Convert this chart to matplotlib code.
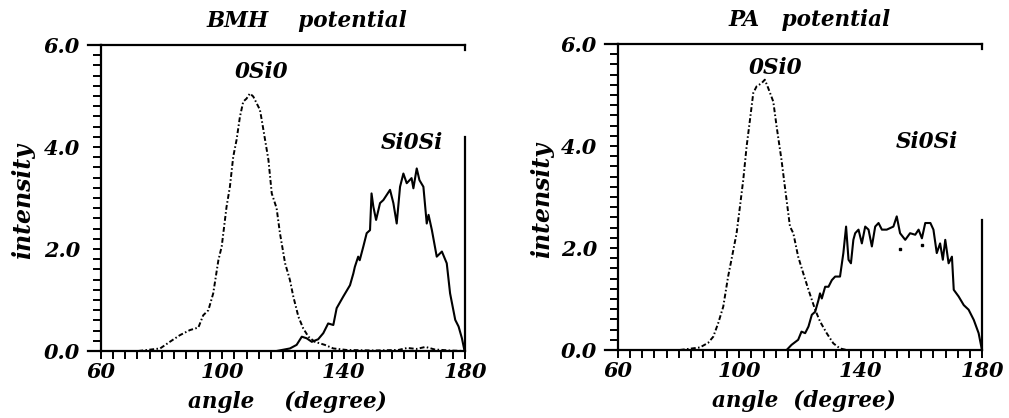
import matplotlib
matplotlib.use("Agg")
import matplotlib.pyplot as plt
from matplotlib.ticker import MultipleLocator, FixedLocator

# ---- data (angle in degrees, intensity) ----
bmh_osio_x = [72.3, 79.5, 82.7, 86.0, 89.3, 92.1, 93.7, 95.4, 97.0, 98.7, 99.8, 101.4,
              102.5, 103.6, 104.7, 105.8, 106.9, 108.0, 109.1, 110.2, 111.3, 112.4,
              113.0, 114.1, 115.2, 116.3, 117.9, 119.0, 120.7, 122.3, 123.4, 125.1,
              126.7, 128.4, 130.5, 133.8, 136.6, 141.0, 150.0, 158.0, 161.0, 164.0,
              167.0, 170.0, 175.0, 180.0]
bmh_osio_y = [0.0, 0.05, 0.18, 0.31, 0.41, 0.46, 0.70, 0.80, 1.13, 1.78, 2.05, 2.83,
              3.22, 3.81, 4.14, 4.59, 4.89, 4.95, 5.05, 4.99, 4.86, 4.73,
              4.53, 4.14, 3.75, 3.09, 2.80, 2.31, 1.72, 1.39, 1.07, 0.67,
              0.44, 0.28, 0.18, 0.12, 0.05, 0.02, 0.01, 0.02, 0.06, 0.04,
              0.08, 0.03, 0.01, 0.0]

bmh_siosi_x = [117.9, 122.3, 124.5, 126.2, 127.8, 129.5, 131.6, 133.3, 134.9, 136.6,
               137.7, 139.9, 142.1, 143.2, 143.7, 144.8, 145.3, 146.5, 147.6, 148.7,
               149.2, 149.8, 150.7, 152.0, 153.1, 155.3, 156.4, 157.5, 158.6, 159.7,
               160.8, 162.4, 163.0, 164.1, 165.0, 166.3, 167.4, 168.0, 169.1, 170.7,
               172.4, 174.0, 175.1, 176.8, 177.9, 179.0, 179.8]
bmh_siosi_y = [0.0, 0.05, 0.12, 0.28, 0.25, 0.18, 0.23, 0.35, 0.54, 0.51,
               0.84, 1.07, 1.29, 1.52, 1.65, 1.85, 1.78, 2.05, 2.31, 2.37,
               3.09, 2.83, 2.57, 2.90, 2.96, 3.16, 2.90, 2.50, 3.22, 3.48,
               3.29, 3.39, 3.19, 3.58, 3.35, 3.22, 2.50, 2.67, 2.37, 1.85,
               1.95, 1.72, 1.13, 0.61, 0.48, 0.25, 0.02]

pa_osio_x = [80.4, 87.0, 89.7, 91.4, 93.0, 94.7, 96.3, 97.4, 99.1, 100.2, 101.3, 102.4,
             103.5, 104.6, 105.7, 107.3, 108.4, 109.5, 111.2, 112.3, 113.9, 115.0,
             116.7, 117.8, 119.4, 121.1, 122.8, 125.0, 126.6, 128.8, 131.0, 133.2, 135.4]
pa_osio_y = [0.0, 0.05, 0.14, 0.26, 0.52, 0.85, 1.44, 1.77, 2.29, 2.81, 3.34, 3.99,
             4.51, 5.04, 5.17, 5.23, 5.30, 5.14, 4.87, 4.38, 3.73, 3.21,
             2.42, 2.29, 1.83, 1.50, 1.18, 0.79, 0.56, 0.33, 0.13, 0.03, 0.0]

pa_siosi_x = [115.6, 117.2, 119.4, 120.5, 121.7, 122.8, 123.9, 125.0, 126.1, 126.6,
              127.2, 128.3, 129.4, 130.5, 131.6, 133.2, 134.3, 135.2, 136.0, 136.8,
              137.6, 138.2, 139.3, 140.4, 141.5, 142.6, 143.7, 144.8, 145.9, 147.0,
              148.6, 150.8, 151.9, 153.0, 154.7, 156.3, 158.0, 159.1, 160.2, 161.3,
              163.0, 164.0, 165.1, 166.2, 167.1, 167.9, 169.0, 170.1, 170.7, 172.3,
              174.0, 175.6, 177.3, 178.9, 180.0]
pa_siosi_y = [0.0, 0.10, 0.20, 0.36, 0.33, 0.46, 0.69, 0.75, 0.98, 1.11,
              1.01, 1.24, 1.24, 1.37, 1.44, 1.44, 1.90, 2.42, 1.77, 1.70,
              2.16, 2.29, 2.36, 2.09, 2.42, 2.36, 2.03, 2.42, 2.49, 2.36,
              2.36, 2.42, 2.62, 2.29, 2.16, 2.29, 2.26, 2.36, 2.19, 2.49,
              2.49, 2.36, 1.90, 2.09, 1.77, 2.16, 1.70, 1.83, 1.18, 1.05,
              0.88, 0.79, 0.59, 0.33, 0.0]
pa_dots_x = [153.0, 160.2]
pa_dots_y = [1.98, 2.06]

FONT = dict(family="DejaVu Serif", weight="bold", style="italic")
DASH = (0, (2.5, 1.2, 0.8, 1.2))


def _panel(ax, title, title_x, xlabel, ylabel_x, osio, siosi, osio_xy, siosi_xy, right_top):
    ax.plot(*osio, color="black", lw=1.4, ls=DASH)
    ax.plot(*siosi, color="black", lw=1.5)
    ax.set_xlim(60, 180)
    ax.set_ylim(0, 6)
    ax.xaxis.set_major_locator(FixedLocator([60, 100, 140, 180]))
    ax.xaxis.set_minor_locator(MultipleLocator(4))
    ax.yaxis.set_major_locator(MultipleLocator(2))
    ax.yaxis.set_minor_locator(MultipleLocator(0.2))
    ax.yaxis.set_major_formatter(matplotlib.ticker.FormatStrFormatter("%.1f"))
    ax.tick_params(which="both", direction="out", length=6, width=1.4, color="black")
    ax.tick_params(axis="x", pad=2)
    ax.tick_params(axis="y", pad=9)
    for lab in ax.get_xticklabels() + ax.get_yticklabels():
        lab.set_fontproperties(matplotlib.font_manager.FontProperties(size=15, **FONT))
    ax.spines["right"].set_visible(False)
    for sp in ("left", "bottom", "top"):
        ax.spines[sp].set_linewidth(1.6)
    # longer marks at the corners, partial right border as in the scan
    ax.plot([55.7, 60], [6, 6], color="black", lw=1.6, clip_on=False)
    ax.plot([55.7, 60], [0, 0], color="black", lw=1.6, clip_on=False)
    ax.plot([180, 180], [0, right_top], color="black", lw=1.6, clip_on=False)
    ax.plot([180, 180], [5.9, 6], color="black", lw=1.6, clip_on=False)
    ax.text(title_x, 1.08, title, transform=ax.transAxes, ha="center", va="center",
            size=15.5, **FONT)
    ax.text(0.511, -0.168, xlabel, transform=ax.transAxes, ha="center", va="center",
            size=15.5, **FONT)
    ax.text(ylabel_x, 0.49, "intensity", transform=ax.transAxes, ha="center",
            va="center", rotation=90, size=17, **FONT)
    ax.text(osio_xy[0], osio_xy[1], "0Si0", ha="center", va="center", size=15.5, **FONT)
    ax.text(siosi_xy[0], siosi_xy[1], "Si0Si", ha="center", va="center", size=15.5, **FONT)


fig = plt.figure(figsize=(10.09, 4.18), dpi=100)
ax1 = fig.add_axes([0.1001, 0.1603, 0.3607, 0.7320])
ax2 = fig.add_axes([0.6125, 0.1627, 0.3607, 0.7320])

_panel(ax1, "BMH    potential", 0.566, "angle    (degree)", -0.215,
       (bmh_osio_x, bmh_osio_y), (bmh_siosi_x, bmh_siosi_y),
       (113.1, 5.47), (162.5, 4.08), 4.2)
_panel(ax2, "PA   potential", 0.527, "angle  (degree)", -0.209,
       (pa_osio_x, pa_osio_y), (pa_siosi_x, pa_siosi_y),
       (111.8, 5.53), (161.9, 4.08), 2.55)
ax2.plot(pa_dots_x, pa_dots_y, ls="none", marker="s", ms=1.8, color="black")

fig.savefig("out.png", dpi=100)
